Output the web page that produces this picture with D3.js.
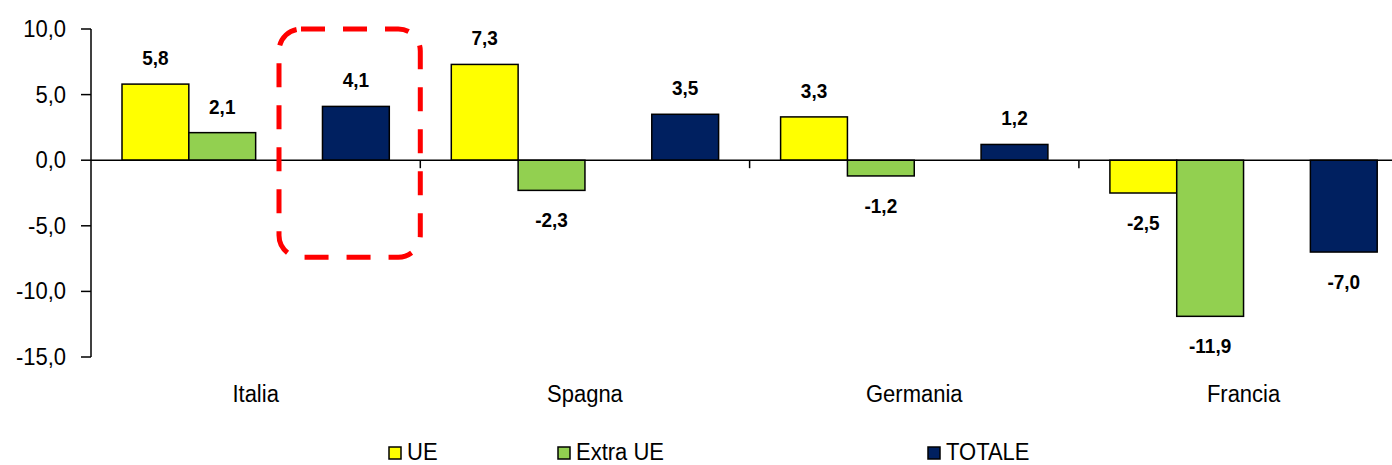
<!DOCTYPE html>
<html>
<meta charset="UTF-8">
<head>
    <script src="https://d3js.org/d3.v7.min.js"></script>
    <style>
        body { margin: 0; background: white; }
        text { font-family: "Liberation Sans", Arial, sans-serif; fill: black; }
    </style>
</head>
<body>
</body>
<script>
    // data
    let countries = ["Italia", "Spagna", "Germania", "Francia"];
    let seriesNames = ["UE", "Extra UE", "", "TOTALE"];   // third slot is empty in the original
    let seriesColors = ["#FFFF00", "#92D050", "none", "#002060"];
    let ue = [5.8, 7.3, 3.3, -2.5];
    let extraUe = [2.1, -2.3, -1.2, -11.9];
    let totale = [4.1, 3.5, 1.2, -7.0];
    let yTicks = [10, 5, 0, -5, -10, -15];

    let width = 1392, height = 465;
    let stretch = 1.1;   // the original text is slightly tall
    let band = 329.3;

    let svg = d3.select("body").append("svg")
        .attr("width", width)
        .attr("height", height);

    let x0 = d3.scaleBand()
        .domain(countries)
        .range([91, 91 + 4 * band]);

    let x1 = d3.scaleBand()
        .domain(seriesNames.map((d, i) => i))
        .range([31, band - 31]);

    let y = d3.scaleLinear()
        .domain([-15, 10])
        .range([357, 29]);

    function fmt(v) {
        return d3.format(".1f")(v).replace(".", ",").replace("−", "-");
    }

    function stretchedText(g, x, yy, str) {
        return g.append("text")
            .attr("transform", `translate(${x},${yy}) scale(1,${stretch})`)
            .text(str);
    }

    // y axis
    let yAxis = svg.append("g");
    yAxis.append("line")
        .attr("x1", 91).attr("x2", 91)
        .attr("y1", y(10)).attr("y2", y(-15))
        .attr("stroke", "black").attr("stroke-width", 1.5);
    for (let t of yTicks) {
        yAxis.append("line")
            .attr("x1", 81).attr("x2", 91)
            .attr("y1", y(t)).attr("y2", y(t))
            .attr("stroke", "black").attr("stroke-width", 1.5);
        stretchedText(yAxis, 66, y(t) + 8, fmt(t))
            .attr("text-anchor", "end")
            .attr("font-size", "22px");
    }

    // bars
    let rows = countries.map((c, i) => ({country: c, values: [ue[i], extraUe[i], null, totale[i]]}));

    let groups = svg.selectAll(".grp")
        .data(rows)
        .join("g")
        .attr("class", "grp")
        .attr("transform", d => `translate(${x0(d.country)},0)`);

    let bars = groups.selectAll("g.bar")
        .data(d => d.values.map((v, i) => ({v: v, i: i})).filter(d => d.v !== null))
        .join("g")
        .attr("class", "bar");

    bars.append("rect")
        .attr("x", d => x1(d.i))
        .attr("width", x1.bandwidth())
        .attr("y", d => y(Math.max(0, d.v)))
        .attr("height", d => Math.abs(y(d.v) - y(0)))
        .attr("fill", d => seriesColors[d.i])
        .attr("stroke", "black")
        .attr("stroke-width", 1.5);

    bars.each(function(d) {
        let cx = x1(d.i) + x1.bandwidth() / 2;
        let ty = d.v >= 0 ? y(d.v) - 19 : y(d.v) + 37;
        stretchedText(d3.select(this), cx, ty, fmt(d.v))
            .attr("text-anchor", "middle")
            .attr("font-size", "19px")
            .attr("font-weight", "bold");
    });

    // zero line and category ticks
    svg.append("line")
        .attr("x1", 91).attr("x2", width)
        .attr("y1", y(0)).attr("y2", y(0))
        .attr("stroke", "black").attr("stroke-width", 1.5);
    for (let c of countries.slice(1)) {
        svg.append("line")
            .attr("x1", x0(c)).attr("x2", x0(c))
            .attr("y1", y(0)).attr("y2", y(0) + 8)
            .attr("stroke", "black").attr("stroke-width", 1.5);
    }

    // category labels
    for (let c of countries) {
        stretchedText(svg, x0(c) + x0.bandwidth() / 2, 402, c)
            .attr("text-anchor", "middle")
            .attr("font-size", "22px");
    }

    // legend
    let legendX = [389, 558, null, 928];
    let legend = svg.append("g");
    seriesNames.forEach((s, i) => {
        if (!s) return;
        legend.append("rect")
            .attr("x", legendX[i]).attr("y", 447)
            .attr("width", 12).attr("height", 12)
            .attr("fill", seriesColors[i])
            .attr("stroke", "black").attr("stroke-width", 1.5);
        stretchedText(legend, legendX[i] + 18, 460, s)
            .attr("font-size", "22px");
    });

    // red dashed highlight around Italia TOTALE
    svg.append("rect")
        .attr("x", x0("Italia") + 188)
        .attr("y", y(10))
        .attr("width", x0("Spagna") - x0("Italia") - 188)
        .attr("height", y(-7.4) - y(10))
        .attr("rx", 22).attr("ry", 22)
        .attr("fill", "none")
        .attr("stroke", "#FF0000")
        .attr("stroke-width", 5)
        .attr("stroke-dasharray", "24,18");
</script>
</html>
